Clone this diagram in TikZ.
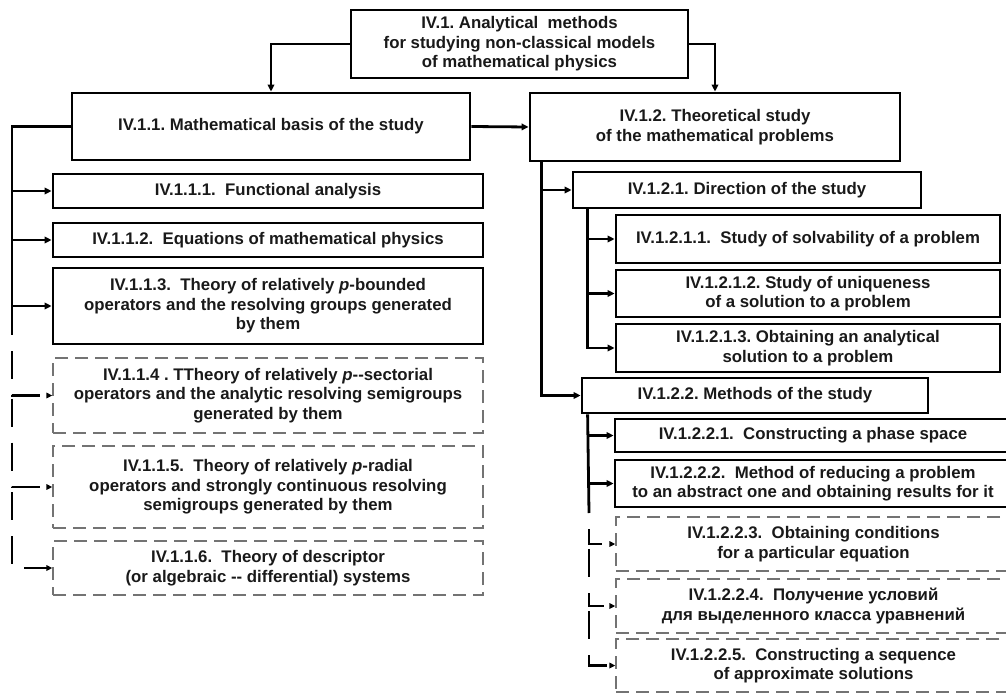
\documentclass[tikz,border=0pt]{standalone}
\usepackage{fontspec}
\setmainfont{Liberation Sans}[Ligatures=TeXOff]
\usetikzlibrary{arrows.meta}
\begin{document}
\begin{tikzpicture}[x=1pt,y=-1pt,
  font=\fontsize{16.8}{19.5}\selectfont\bfseries\frenchspacing,
  solidbox/.style={draw=black, line width=2.8pt, inner sep=0pt, align=center, text=black!90},
  dashbox/.style={draw=black!55, line width=1.3pt, dash pattern=on 13pt off 7pt, inner sep=0pt, align=center, text=black!90},
  trunk/.style={line width=2.8pt},
  conn/.style={line width=2.8pt, -{Triangle[length=7pt,width=6.5pt]}},
  dconn/.style={line width=2.8pt, dash pattern=on 28pt off 16pt, -{Triangle[length=6pt,width=5.5pt]}},
]
\useasboundingbox (0,0) rectangle (1006,693);
\clip (0,0) rectangle (1006,693);

% top level
\node[solidbox, minimum width=337pt, minimum height=68pt] (A) at (519.5,44)
  {IV.1. Analytical\ \ methods\\for studying non-classical models\\of mathematical physics};

% second level
\node[solidbox, minimum width=398pt, minimum height=67pt] (B) at (271,126.5)
  {IV.1.1. Mathematical basis of the study};
\node[solidbox, minimum width=370pt, minimum height=68pt] (C) at (715,127)
  {IV.1.2. Theoretical study\\of the mathematical problems};

% left branch
\node[solidbox, minimum width=430pt, minimum height=34pt] (B1) at (268,191)
  {IV.1.1.1.\ \ Functional analysis};
\node[solidbox, minimum width=430pt, minimum height=34pt] (B2) at (268,240)
  {IV.1.1.2.\ \ Equations of mathematical physics};
\node[solidbox, minimum width=430pt, minimum height=76pt] (B3) at (268,306)
  {IV.1.1.3.\ \ Theory of relatively \textit{p}-bounded\\operators and the resolving groups generated\\by them};
\node[dashbox, minimum width=430pt, minimum height=75pt] (B4) at (268,395.5)
  {IV.1.1.4 . TTheory of relatively \textit{p}--sectorial\\operators and the analytic resolving semigroups\\generated by them};
\node[dashbox, minimum width=430pt, minimum height=82pt] (B5) at (268,487)
  {IV.1.1.5.\ \ Theory of relatively \textit{p}-radial\\operators and strongly continuous resolving\\semigroups generated by them};
\node[dashbox, minimum width=430pt, minimum height=54pt] (B6) at (268,568)
  {IV.1.1.6.\ \ Theory of descriptor\\(or algebraic -- differential) systems};

% right branch
\node[solidbox, minimum width=348pt, minimum height=36pt] (C1) at (747,190)
  {IV.1.2.1. Direction of the study};
\node[solidbox, minimum width=384pt, minimum height=48pt] (C11) at (808,239)
  {IV.1.2.1.1.\ \ Study of solvability of a problem};
\node[solidbox, minimum width=384pt, minimum height=47pt] (C12) at (808,293.5)
  {IV.1.2.1.2. Study of uniqueness\\of a solution to a problem};
\node[solidbox, minimum width=384pt, minimum height=48pt] (C13) at (808,348)
  {IV.1.2.1.3. Obtaining an analytical\\solution to a problem};
\node[solidbox, minimum width=346pt, minimum height=35pt] (C2) at (755,395.5)
  {IV.1.2.2. Methods of the study};
\node[solidbox, minimum width=396pt, minimum height=33pt] (C21) at (813,435.5)
  {IV.1.2.2.1.\ \ Constructing a phase space};
\node[solidbox, minimum width=396pt, minimum height=47pt] (C22) at (813,483.5)
  {IV.1.2.2.2.\ \ Method of reducing a problem\\to an abstract one and obtaining results for it};
\node[dashbox, minimum width=395pt, minimum height=54pt] (C23) at (813.5,544)
  {IV.1.2.2.3.\ \ Obtaining conditions\\for a particular equation};
\node[dashbox, minimum width=395pt, minimum height=54pt] (C24) at (813.5,606)
  {IV.1.2.2.4.\ \ Получение условий\\для выделенного класса уравнений};
\node[dashbox, minimum width=395pt, minimum height=53pt] (C25) at (813.5,665.5)
  {IV.1.2.2.5.\ \ Constructing a sequence\\of approximate solutions};

% connectors from the root
\draw[conn] (A.west) -| (B.north);
\draw[conn] (A.east) -| (C.north);
\draw[conn] (B.east) -- (C.west);

% left bus
\coordinate (lb) at (12,335);
\draw[trunk] (B.west) -| (lb);
\draw[conn] (lb |- B1.west) -- (B1.west);
\draw[conn] (lb |- B2.west) -- (B2.west);
\draw[conn] (lb |- B3.west) -- (B3.west);
\draw[dconn, dash phase=28pt] (lb) |- (B4.west);
\draw[dconn, dash phase=41pt] (lb |- B4.west) |- (B5.west);
\draw[dconn, dash phase=39pt] (lb |- B5.west) |- (B6.west);

% right bus
\coordinate (cb) at ([xshift=13pt]C.south west);
\draw[conn] (cb) |- (C2.west);
\draw[conn] (cb |- C1.west) -- (C1.west);

\coordinate (c1b) at ([xshift=16pt]C1.south west);
\draw[conn] (c1b) |- (C13.west);
\draw[conn] (c1b |- C11.west) -- (C11.west);
\draw[conn] (c1b |- C12.west) -- (C12.west);

\coordinate (c2b) at ([xshift=7pt]C2.south west);
\coordinate (c2e) at (589,513);
\draw[trunk] (c2b) -- (c2e);
\draw[conn] (c2b |- C21.west) -- (C21.west);
\draw[conn] (c2b |- C22.west) -- (C22.west);
\draw[dconn, dash phase=28pt] (c2e) |- (C23.west);
\draw[dconn, dash phase=39pt] (c2e |- C23.west) |- (C24.west);
\draw[dconn, dash phase=39pt] (c2e |- C24.west) |- (C25.west);
\end{tikzpicture}
\end{document}
